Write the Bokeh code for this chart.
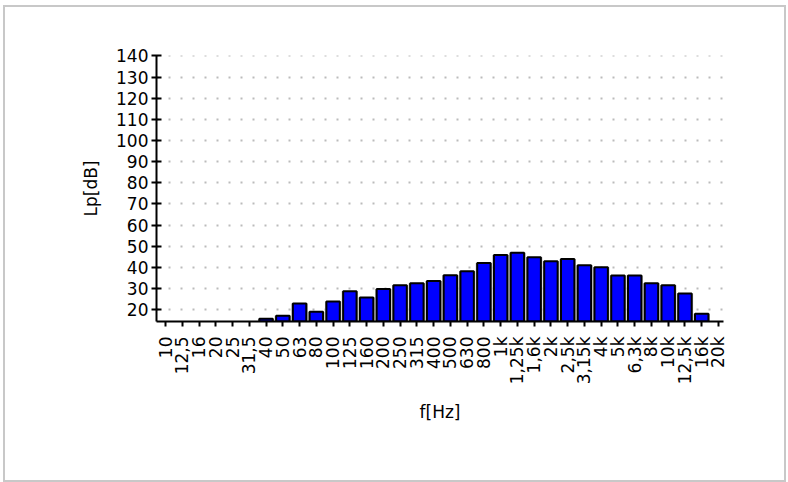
import math
from bokeh.plotting import figure
from bokeh.models import Range1d, FixedTicker
from bokeh.embed import file_html
from bokeh.resources import INLINE

# Third-octave bands and sound pressure levels
bands = ["10", "12,5", "16", "20", "25", "31,5", "40", "50", "63", "80",
         "100", "125", "160", "200", "250", "315", "400", "500", "630", "800",
         "1k", "1,25k", "1,6k", "2k", "2,5k", "3,15k", "4k", "5k", "6,3k", "8k",
         "10k", "12,5k", "16k", "20k"]
nan = float("nan")
levels = [nan, nan, nan, nan, nan, nan, 15.7, 17.1, 22.9, 19.0,
          23.9, 28.7, 25.8, 29.8, 31.5, 32.5, 33.6, 36.3, 38.2, 42.1,
          45.8, 46.9, 44.8, 42.9, 43.9, 41.0, 40.1, 36.1, 36.1, 32.5,
          31.5, 27.7, 18.1, nan]
y_ticks = [20, 30, 40, 50, 60, 70, 80, 90, 100, 110, 120, 130, 140]

Y0, Y1 = 14.4, 140.2
xs = list(range(len(bands)))

p = figure(width=783, height=477, output_backend="svg", toolbar_location=None,
           x_range=Range1d(-0.54, 33.3), y_range=Range1d(Y0, Y1),
           min_border_left=151, min_border_right=65, min_border_top=48,
           min_border_bottom=163)
p.styles = {"border": "2px solid #c8c8c8", "margin-left": "3px", "margin-top": "5px"}
p.outline_line_color = None
p.background_fill_color = "white"
p.border_fill_color = "white"

p.vbar(x=xs, top=levels, bottom=Y0, width=0.97, fill_color="#a8a8a8", line_color=None)
p.vbar(x=xs, top=levels, bottom=Y0, width=0.80, fill_color="#0000FF",
       line_color="black", line_width=2)

font = "DejaVu Sans"
fs = "17px"

xa = p.xaxis[0]
xa.ticker = FixedTicker(ticks=xs)
xa.major_label_overrides = {i: b for i, b in enumerate(bands)}
xa.major_label_orientation = math.pi / 2
xa.minor_tick_line_color = None
xa.major_tick_out = 5
xa.major_tick_in = 0
xa.major_tick_line_width = 2
xa.axis_line_width = 2
xa.axis_line_color = "black"
xa.major_label_text_font = font
xa.major_label_text_font_size = fs
xa.major_label_text_color = "black"
xa.major_label_standoff = 10
xa.axis_label = "f[Hz]"
xa.axis_label_text_font = font
xa.axis_label_text_font_size = fs
xa.axis_label_text_font_style = "normal"
xa.axis_label_text_color = "black"
xa.axis_label_standoff = 15

ya = p.yaxis[0]
ya.ticker = FixedTicker(ticks=y_ticks)
ya.minor_tick_line_color = None
ya.major_tick_out = 5
ya.major_tick_in = 5
ya.major_tick_line_width = 2
ya.axis_line_width = 2
ya.axis_line_color = "black"
ya.major_label_text_font = font
ya.major_label_text_font_size = fs
ya.major_label_text_color = "black"
ya.major_label_standoff = 3
ya.axis_label = "Lp[dB]"
ya.axis_label_text_font = font
ya.axis_label_text_font_size = fs
ya.axis_label_text_font_style = "normal"
ya.axis_label_text_color = "black"
ya.axis_label_standoff = 12

p.xgrid.grid_line_color = None
p.ygrid.ticker = FixedTicker(ticks=y_ticks)
p.ygrid.grid_line_color = "#bbbbbb"
p.ygrid.grid_line_dash = "2 10"
p.ygrid.grid_line_width = 2

open("out.html", "w").write(file_html(p, INLINE))
